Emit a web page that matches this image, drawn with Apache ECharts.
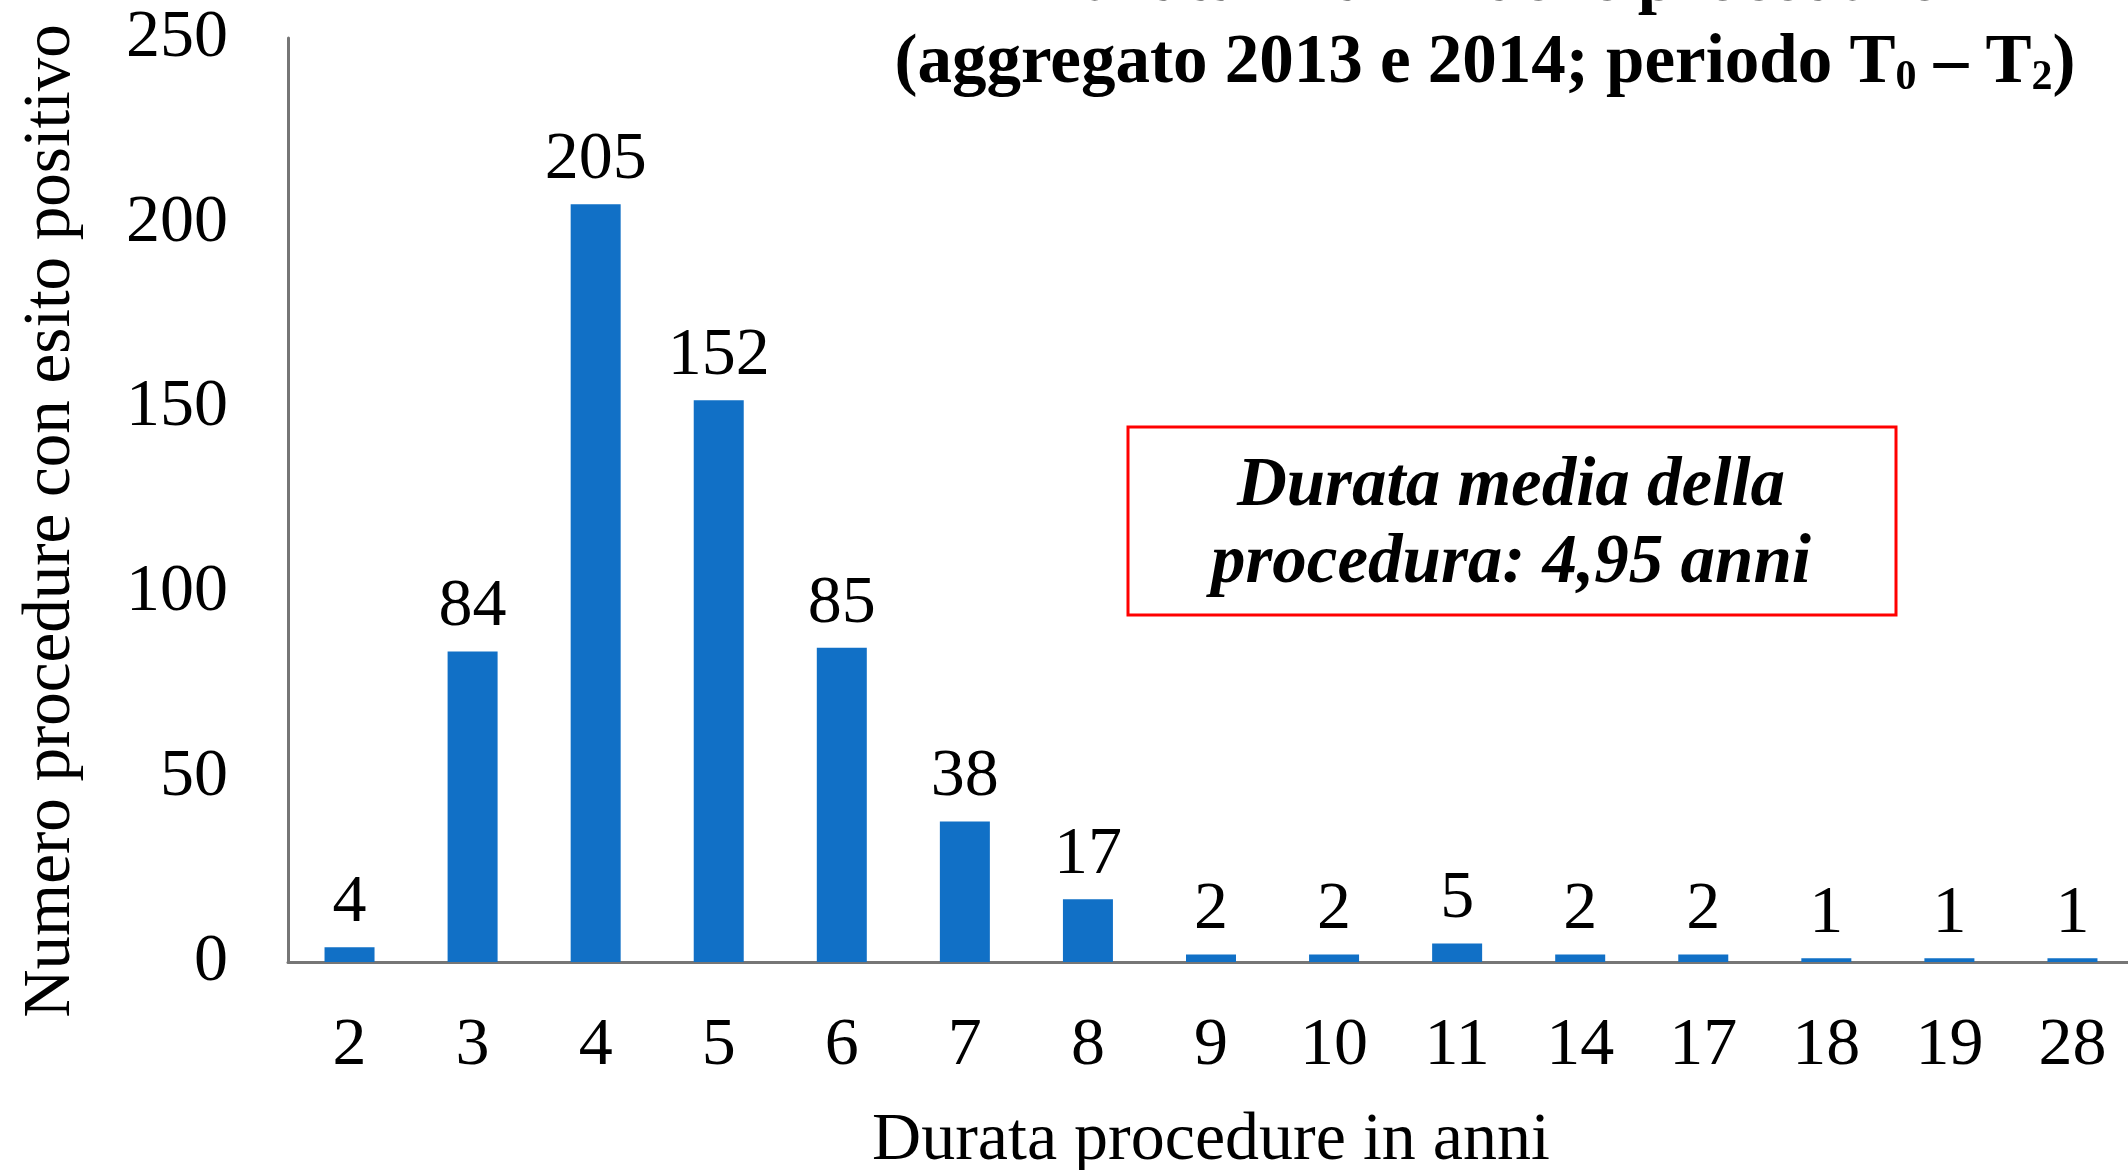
<!DOCTYPE html>
<html lang="it">
<head>
    <meta charset="UTF-8">
    <title>Durata in anni delle procedure</title>
    <script src="https://cdn.jsdelivr.net/npm/echarts@6/dist/echarts.min.js"></script>
    <style>
        html, body { margin: 0; padding: 0; background: #fff; }
    </style>
</head>
<body>
    <div id="pic1" style="width:2128px;height:1170px;"></div>
    <script>
        // dati
        var categorie = ['2', '3', '4', '5', '6', '7', '8', '9', '10', '11', '14', '17', '18', '19', '28'];
        var procedure = [4, 84, 205, 152, 85, 38, 17, 2, 2, 5, 2, 2, 1, 1, 1];
        var yMin = 0, yMax = 250, yStep = 50;

        var font = '"Liberation Serif", "Times New Roman", serif';
        var myChart = echarts.init(document.getElementById("pic1"));

        var option = {
            backgroundColor: '#ffffff',
            animation: false,
            title: {
                text: '{n|Durata in anni delle procedure}\n{n|(aggregato 2013 e 2014; periodo T}{s|0}{n| – T}{s|2}{n|)}',
                left: 1480,
                top: -70,
                textAlign: 'center',
                textStyle: {
                    fontFamily: font,
                    fontWeight: 'bold',
                    color: '#000',
                    rich: {
                        n: { fontFamily: font, fontWeight: 'bold', fontSize: 69, lineHeight: 82, color: '#000', verticalAlign: 'bottom' },
                        s: { fontFamily: font, fontWeight: 'bold', fontSize: 42, lineHeight: 54, color: '#000', verticalAlign: 'bottom' }
                    }
                }
            },
            grid: {
                left: 288,
                top: 38,
                width: 1846,
                height: 924,
                outerBoundsMode: 'none',
                containLabel: false
            },
            xAxis: {
                type: 'category',
                data: categorie,
                name: 'Durata procedure in anni',
                nameLocation: 'middle',
                nameGap: 145,
                nameTextStyle: { fontFamily: font, fontSize: 68, color: '#000' },
                axisLine: { lineStyle: { color: '#767676', width: 3 } },
                axisTick: { show: false },
                axisLabel: { fontFamily: font, fontSize: 68, color: '#000', margin: 50 }
            },
            yAxis: {
                type: 'value',
                min: yMin,
                max: yMax,
                interval: yStep,
                name: 'Numero procedure con esito positivo',
                nameLocation: 'middle',
                nameRotate: 90,
                nameGap: 203,
                nameTextStyle: { fontFamily: font, fontSize: 67, color: '#000', padding: [0, 42, 0, 0] },
                axisLine: { show: true, lineStyle: { color: '#767676', width: 3 } },
                axisTick: { show: false },
                splitLine: { show: false },
                axisLabel: { fontFamily: font, fontSize: 68, color: '#000', margin: 60 }
            },
            series: [
                {
                    name: 'Procedure',
                    type: 'bar',
                    data: procedure,
                    barWidth: 50,
                    itemStyle: { color: '#1170c6' },
                    label: {
                        show: true,
                        position: 'top',
                        distance: 10,
                        fontFamily: font,
                        fontSize: 68,
                        color: '#000'
                    }
                }
            ],
            graphic: [
                {
                    type: 'rect',
                    shape: { x: 1128, y: 427, width: 768, height: 188 },
                    style: { fill: '#fff', stroke: '#ff0000', lineWidth: 3 }
                },
                {
                    type: 'text',
                    x: 1511,
                    y: 526,
                    style: {
                        text: 'Durata media della\nprocedura: 4,95 anni',
                        fontFamily: font,
                        fontStyle: 'italic',
                        fontWeight: 'bold',
                        fontSize: 69,
                        lineHeight: 77,
                        fill: '#000',
                        align: 'center',
                        verticalAlign: 'middle'
                    }
                }
            ]
        };

        myChart.setOption(option);
    </script>
</body>
</html>
